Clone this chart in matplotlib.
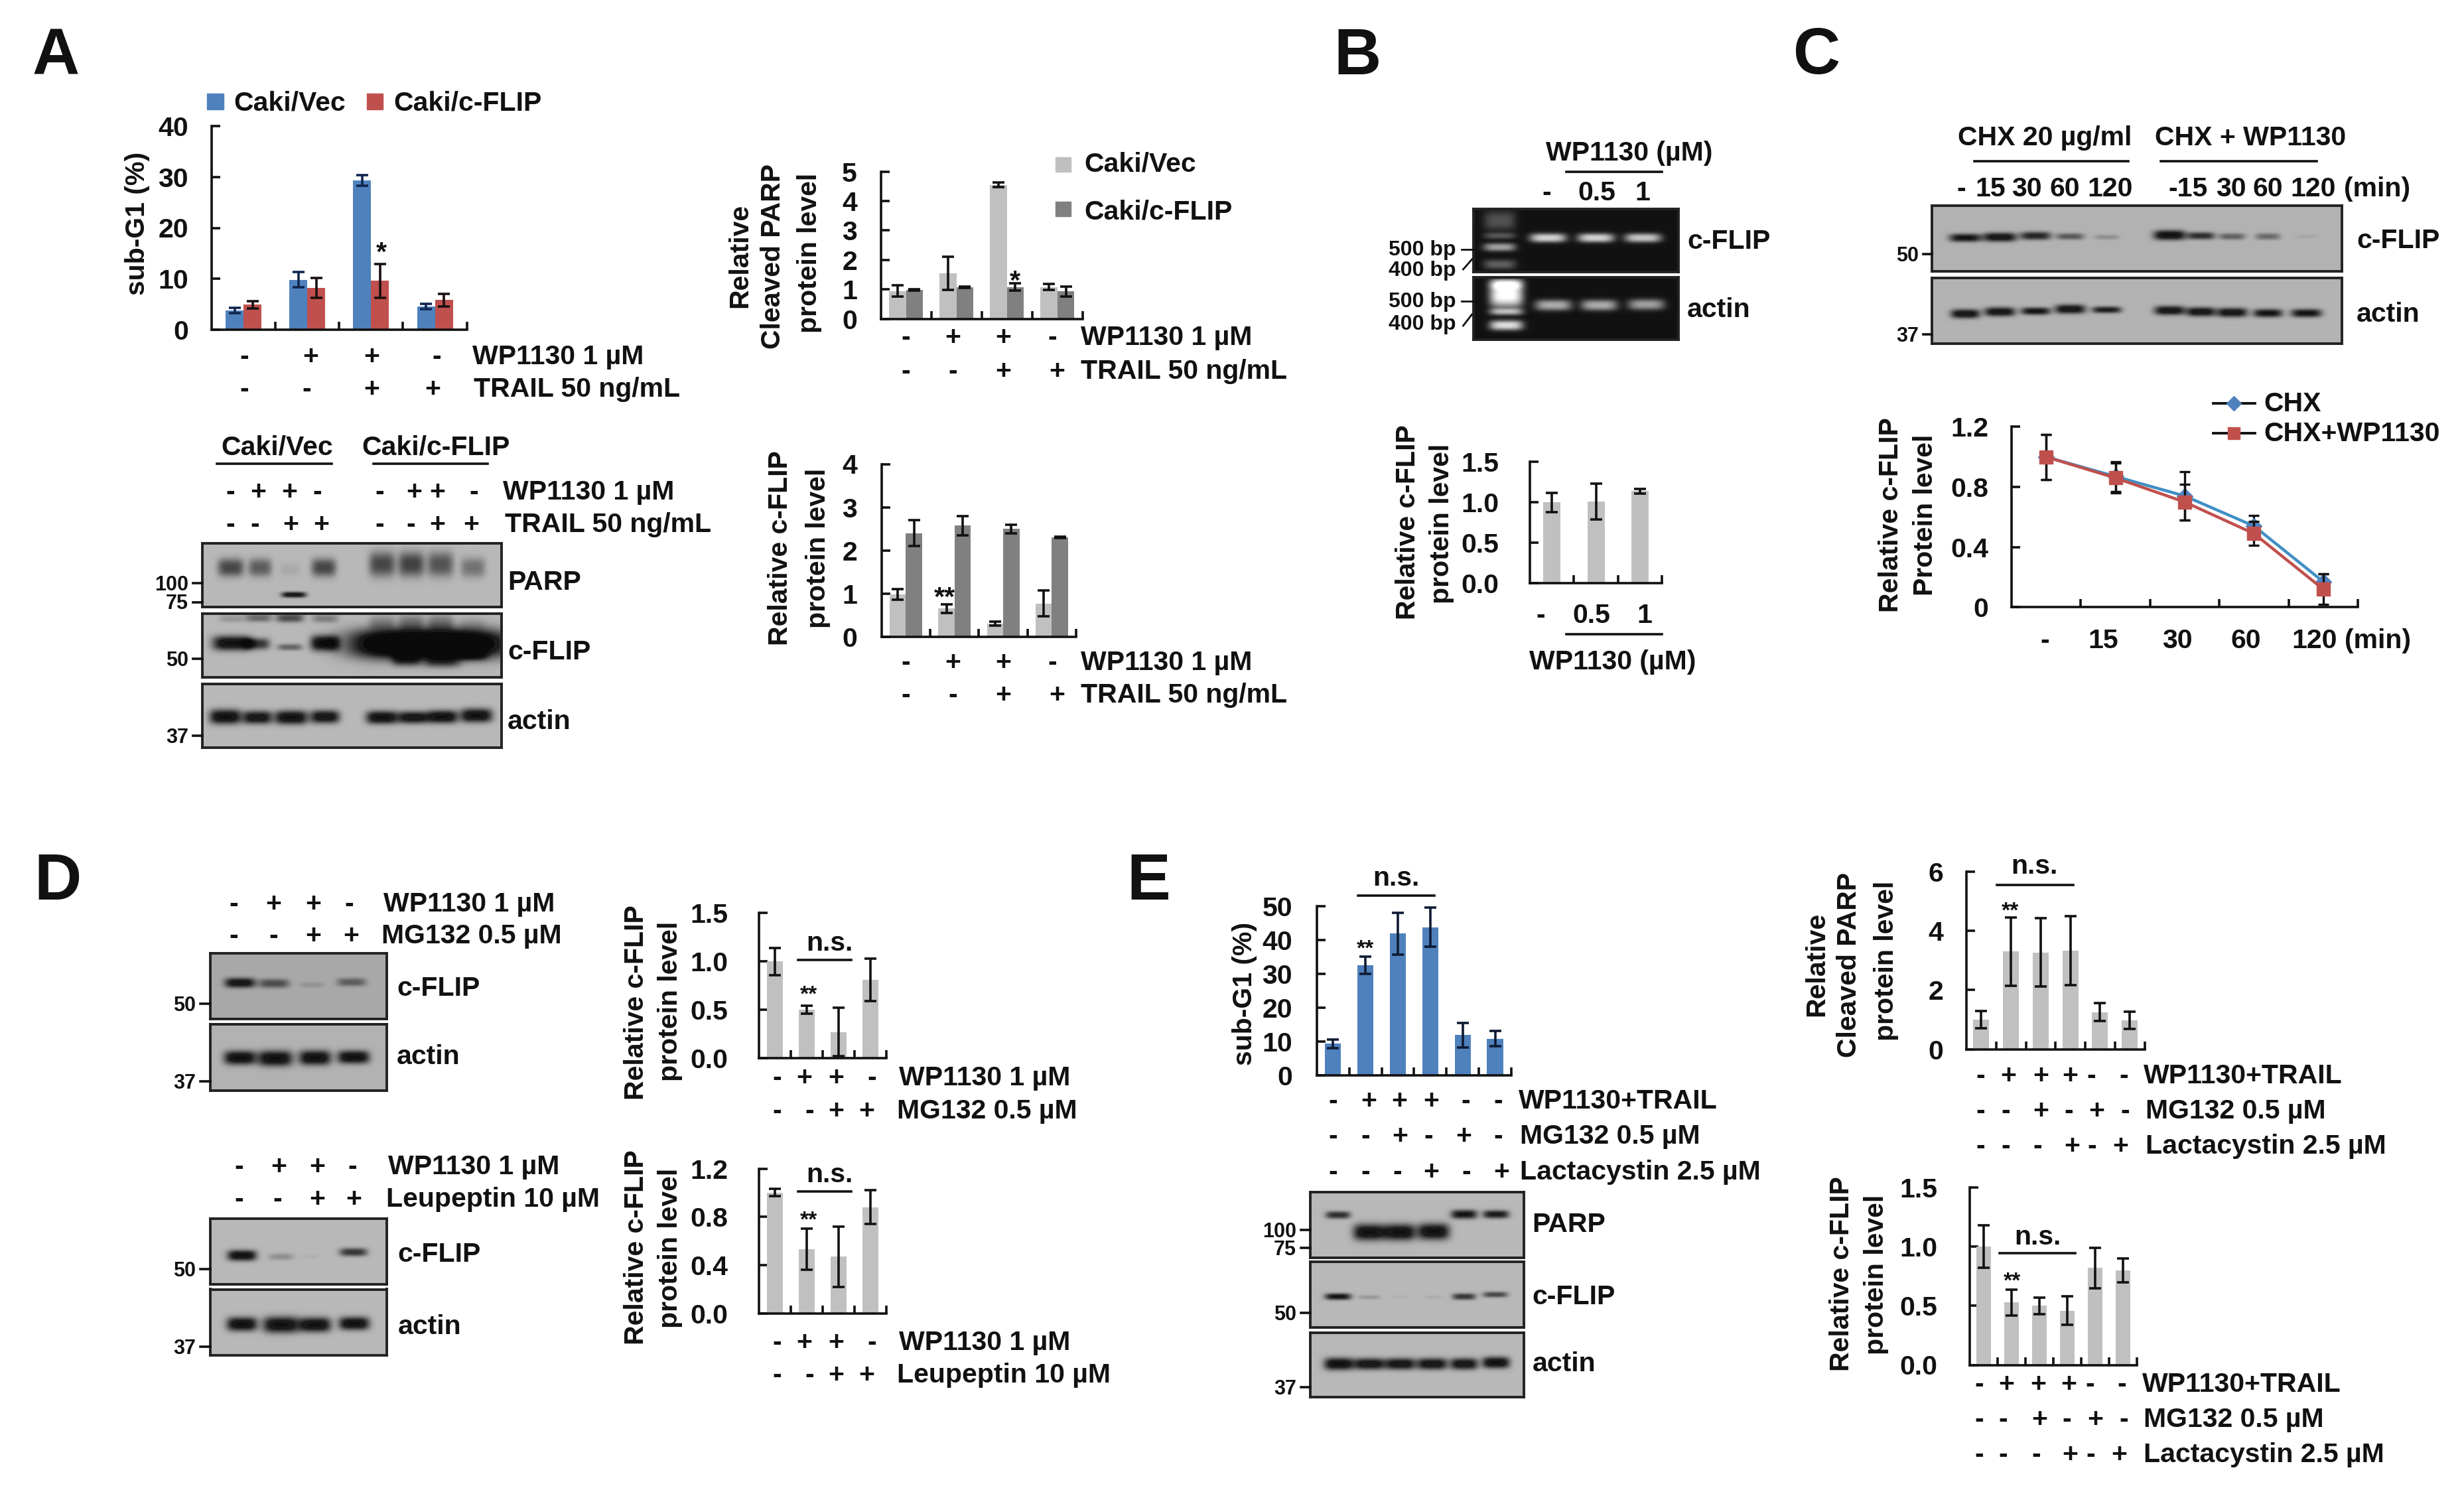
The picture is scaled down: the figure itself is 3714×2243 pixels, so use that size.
import numpy as np
import matplotlib
matplotlib.use("Agg")
import matplotlib.pyplot as plt
from matplotlib.lines import Line2D

plt.rcParams['font.family'] = ['Liberation Sans', 'DejaVu Sans']
plt.rcParams['font.weight'] = 'bold'

W, H = 3714, 2243
BLUE, RED, LIGHT, DARK = '#4f81bd', '#c0504d', '#c0c0c0', '#808080'

# ---------- data ----------
a1_vec = [3.8, 9.8, 29.3, 4.6];      a1_vec_err = [0.5, 1.5, 1.0, 0.5]
a1_flip = [4.9, 8.2, 9.6, 5.8];      a1_flip_err = [0.7, 2.0, 3.3, 1.3]
a2_vec = [0.95, 1.55, 4.55, 1.08];   a2_vec_err = [0.2, 0.57, 0.07, 0.1]
a2_flip = [0.98, 1.07, 1.08, 0.93];  a2_flip_err = [0.02, 0.02, 0.12, 0.17]
a3_vec = [0.98, 0.65, 0.30, 0.77];   a3_vec_err = [0.12, 0.1, 0.05, 0.3]
a3_flip = [2.4, 2.57, 2.5, 2.3];     a3_flip_err = [0.3, 0.23, 0.1, 0.02]
b_vals = [1.0, 1.01, 1.14];          b_err = [0.12, 0.22, 0.03]
c_chx = [1.0, 0.87, 0.74, 0.54, 0.17];   c_chx_err = [0.15, 0.1, 0.16, 0.07, 0.05]
c_wp = [1.0, 0.86, 0.70, 0.49, 0.12];    c_wp_err = [0.15, 0.1, 0.12, 0.08, 0.1]
d1_vals = [1.0, 0.5, 0.27, 0.81];    d1_err = [0.14, 0.04, 0.25, 0.22]
d2_vals = [1.0, 0.53, 0.47, 0.88];   d2_err = [0.03, 0.17, 0.25, 0.14]
e1_vals = [9.3, 32.5, 41.8, 43.7, 11.8, 10.8];  e1_err = [1.3, 2.5, 6.2, 5.8, 3.7, 2.3]
e2_vals = [1.0, 3.3, 3.27, 3.33, 1.25, 0.98];   e2_err = [0.3, 1.15, 1.15, 1.17, 0.3, 0.3]
e3_vals = [1.0, 0.53, 0.5, 0.46, 0.82, 0.8];    e3_err = [0.18, 0.11, 0.07, 0.12, 0.17, 0.1]

# blot bands: (lane centre, row centre, width, height, strength)
a_parp = [(347,855,36,22,.62),(391,855,32,22,.5),(436,858,28,16,.08),(487,855,34,22,.62),
          (575,850,36,30,.62),(619,850,36,30,.65),(663,850,36,30,.55),(712,855,34,24,.38),(442,896,34,7,.95)]
a_flip = [(349,932,36,9,.18),(389,931,36,10,.42),(436,931,38,11,.58),(489,932,36,10,.32),
          (349,969,54,18,1.0),(386,970,36,14,.7),(436,975,34,8,.45),(489,969,40,19,1.0),
          (575,938,36,18,.25),(619,938,36,20,.32),(663,938,36,20,.32),(712,940,36,16,.12),
          (645,970,215,36,1.6),(612,994,40,16,.55),(665,996,50,16,.55),(712,988,40,12,.4)]
a_actin = [(339,1080,44,18,1.0),(387,1081,40,16,.95),(438,1081,46,17,1.0),(489,1080,40,16,.95),
           (575,1081,44,16,1.0),(622,1081,42,15,.95),(666,1080,42,16,1.0),(717,1078,44,17,1.0)]
b_gel1 = [(2333,358,50,11,.75),(2405,358,50,11,.75),(2476,358,50,11,.7),
          (2260,332,44,24,.25),(2260,355,44,8,.25),(2260,372,44,10,.55),(2260,398,44,12,.3)]
b_gel2 = [(2341,460,50,13,.6),(2410,460,50,13,.6),(2481,459,50,13,.55),
          (2270,445,46,30,.95),(2270,470,46,8,.55),(2270,490,46,12,.8),(2270,428,46,12,.6)]
c_flip = [(2962,358,44,10,.9),(3014,357,46,11,.95),(3068,355,42,10,.8),(3120,356,38,8,.5),(3175,357,34,6,.2),
          (3270,354,44,12,1.0),(3317,355,38,9,.75),(3364,356,36,8,.45),(3418,356,34,8,.4),(3476,356,30,5,.07)]
c_actin = [(2962,473,40,11,.95),(3014,470,42,11,.95),(3068,469,40,9,.9),(3120,466,42,11,.95),(3175,467,40,8,.85),
           (3270,468,42,11,.95),(3317,470,40,11,.95),(3364,471,42,11,.95),(3418,472,40,10,.9),(3476,472,42,10,.9)]
d_flip1 = [(361,1481,42,12,.95),(412,1482,42,11,.55),(469,1484,34,7,.13),(529,1480,40,10,.45)]
d_act1 = [(361,1594,44,17,1.0),(414,1595,48,19,1.0),(474,1594,44,18,1.0),(532,1593,44,16,1.0)]
d_flip2 = [(364,1892,40,13,1.0),(423,1894,34,8,.22),(466,1894,24,5,.04),(532,1887,38,10,.7)]
d_act2 = [(364,1996,42,17,1.0),(423,1997,50,20,1.0),(474,1997,44,18,1.0),(533,1995,42,16,1.0)]
e_parp = [(2016,1831,34,9,.75),(2063,1857,44,20,1.0),(2109,1857,44,20,1.0),(2160,1856,44,20,1.0),
          (2206,1830,36,11,.9),(2254,1830,36,10,.85)]
e_flip = [(2016,1954,36,8,.9),(2063,1955,30,5,.18),(2110,1955,24,4,.03),(2160,1955,24,4,.06),
          (2206,1954,32,8,.7),(2253,1951,34,7,.6)]
e_actin = [(2017,2056,40,15,1.0),(2063,2056,44,14,.95),(2110,2056,42,14,.95),(2158,2056,42,14,.95),
           (2206,2056,38,14,.95),(2254,2054,38,14,1.0)]

fig = plt.figure(figsize=(W/100, H/100), dpi=100, facecolor='white')
FS = 29.5

def T(x, y, s, ha='left', size=FS, lift=.30, **kw):
    em = size*100/72
    fig.text(x/W, 1-(y+lift*em)/H, s, ha=ha, va='baseline', fontsize=size, fontweight='bold', color='#111111', **kw)

def R(x, y, s, size=FS):
    fig.text(x/W, 1-y/H, s, ha='center', va='center', rotation=90, fontsize=size, fontweight='bold', color='#111111')

def rows(xs, y, signs):
    for x, s in zip(xs, signs):
        T(x, y, s, ha='center')

def line(x0, x1, y, lw=2.6, y1=None):
    fig.add_artist(Line2D([x0/W, x1/W], [1-y/H, 1-(y if y1 is None else y1)/H], color='#111111', lw=lw))

def newax(x0, ytop, x1, y0):
    ax = fig.add_axes([x0/W, 1-y0/H, (x1-x0)/W, (y0-ytop)/H])
    ax.patch.set_alpha(0)
    return ax

def style(ax, n, yticks, ylabels, right):
    x0 = ax.get_position().x0*W
    ax.set_xlim(0, n)
    ax.set_ylim(yticks[0], yticks[-1])
    for s in ('top', 'right'):
        ax.spines[s].set_visible(False)
    for s in ('left', 'bottom'):
        ax.spines[s].set_linewidth(2.6)
        ax.spines[s].set_color('#111111')
    ax.set_xticks(range(1, n+1))
    ax.set_xticklabels([])
    ax.set_yticks(yticks)
    ax.set_yticklabels(ylabels, fontsize=FS, fontweight='bold', color='#111111')
    ax.tick_params(axis='both', direction='in', length=9, width=2.6, color='#111111')
    ax.tick_params(axis='y', pad=(x0-right)*.72)

def bars(box, yticks, ylabels, right, series, barpx):
    ax = newax(*box)
    n = len(series[0][0])
    grp = (box[2]-box[0])/n
    wd = barpx/grp
    k = len(series)
    for i, (vals, errs, col, ecol) in enumerate(series):
        x = np.arange(n)+.5+(i-(k-1)/2)*wd
        ax.bar(x, vals, width=wd, color=col, linewidth=0, zorder=2)
        ax.errorbar(x, vals, yerr=errs, fmt='none', ecolor=ecol, elinewidth=2.6, capsize=6.5, capthick=2.6, zorder=3, clip_on=False)
    style(ax, n, yticks, ylabels, right)
    return ax

def blot(x0, y0, x1, y1, bands, bg=.72, gel=False):
    ax = newax(x0, y0, x1, y1)
    xx, yy = np.meshgrid(np.arange(x0, x1, 1.0), np.arange(y0, y1, 1.0))
    sig = np.zeros_like(xx)
    for (bx, by, bw, bh, s) in bands:
        sig += s*np.exp(-(np.abs(xx-bx)/(bw*.55))**4)*np.exp(-(np.abs(yy-by)/(bh*.62))**2.5)
    if gel:
        img = np.clip(.07+sig, 0, 1)
    else:
        img = np.clip(bg*(1-sig)+.06*(sig > .9), .04, 1)
    ax.imshow(img, cmap='gray', vmin=0, vmax=1, extent=(x0, x1, y1, y0), aspect='auto', interpolation='bilinear')
    ax.set_xticks([]); ax.set_yticks([])
    for s in ax.spines.values():
        s.set_linewidth(2.8); s.set_color('#222222')

def mw(label, y, axis_x, right, size=22):
    T(right, y, label, ha='right', size=size, lift=.36)
    line(right+7, axis_x, y)

# ---------- Panel A ----------
T(49, 76, 'A', size=71, lift=.36)
fig.patches.append(plt.Rectangle((312/W, 1-165/H), 25/W, 24/H, transform=fig.transFigure, color=BLUE))
fig.patches.append(plt.Rectangle((553/W, 1-165/H), 24/W, 24/H, transform=fig.transFigure, color=RED))
T(352, 153, 'Caki/Vec', lift=.34); T(593, 153, 'Caki/c-FLIP', lift=.34)
bars((319, 190, 703.6, 497), [0, 10, 20, 30, 40], ['0', '10', '20', '30', '40'], 284,
     [(a1_vec, a1_vec_err, BLUE, '#10264f'), (a1_flip, a1_flip_err, RED, '#1a1010')], 27)
R(207, 337, 'sub-G1 (%)')
T(575, 369, '*', ha='center', lift=.58)
rows([368, 468, 560, 658], 537, '-++-'); T(712, 537, 'WP1130 1 µM')
rows([368, 462, 560, 652], 586, '--++'); T(714, 586, 'TRAIL 50 ng/mL')

T(418, 673, 'Caki/Vec', ha='center'); T(657, 673, 'Caki/c-FLIP', ha='center')
line(327, 500, 699); line(563, 735, 699)
rows([347, 389, 436, 478, 572, 624, 659, 714], 740.5, '-++--++-'); T(758, 740.5, 'WP1130 1 µM')
rows([347, 384, 438, 484, 572, 619, 659, 710], 790, '--++--++'); T(761, 790, 'TRAIL 50 ng/mL')
blot(304.5, 819, 755.5, 915, a_parp)
blot(304.5, 925, 755.5, 1021, a_flip)
blot(304.5, 1031, 755.5, 1127, a_actin)
mw('100', 879, 304.5, 284); mw('75', 907.5, 304.5, 284); mw('50', 992.6, 304.5, 284); mw('37', 1109, 304.5, 284)
T(765, 876.5, 'PARP'); T(765, 981.6, 'c-FLIP'); T(765, 1086.6, 'actin')

bars((1327.5, 258.6, 1631.8, 480.8), [0, 1, 2, 3, 4, 5], list('012345'), 1292,
     [(a2_vec, a2_vec_err, LIGHT, '#111111'), (a2_flip, a2_flip_err, DARK, '#111111')], 25.5)
for x, y, s in [(1115, 385, 'Relative'), (1165, 387, 'Cleaved PARP'), (1220, 381, 'protein level')]:
    R(x, y, s)
T(1530, 412, '*', ha='center', lift=.58)
fig.patches.append(plt.Rectangle((1591/W, 1-259/H), 23/W, 22/H, transform=fig.transFigure, color=LIGHT))
fig.patches.append(plt.Rectangle((1591/W, 1-326/H), 23/W, 22/H, transform=fig.transFigure, color=DARK))
T(1634, 246, 'Caki/Vec'); T(1634, 318, 'Caki/c-FLIP')
rows([1365, 1436, 1512, 1586], 508, '-++-'); T(1629, 508, 'WP1130 1 µM')
rows([1365, 1436, 1512, 1593.5], 559, '--++'); T(1629, 559, 'TRAIL 50 ng/mL')

bars((1328.8, 699.5, 1622, 959.6), [0, 1, 2, 3, 4], list('01234'), 1292,
     [(a3_vec, a3_vec_err, LIGHT, '#111111'), (a3_flip, a3_flip_err, DARK, '#111111')], 24.5)
R(1176, 826, 'Relative c-FLIP'); R(1233, 826, 'protein level')
T(1424, 889, '**', ha='center', lift=.58)
rows([1365, 1436, 1512, 1586], 998, '-++-'); T(1629, 998, 'WP1130 1 µM')
rows([1365, 1436, 1512, 1593.5], 1047, '--++'); T(1629, 1047, 'TRAIL 50 ng/mL')

# ---------- Panel B ----------
T(2010, 76, 'B', size=71, lift=.36)
T(2456, 230, 'WP1130 (µM)', ha='center'); line(2361, 2505, 259)
for x, s in zip([2331, 2407, 2475.5], ['-', '0.5', '1']):
    T(x, 290, s, ha='center')
blot(2221, 315, 2530, 410, b_gel1, gel=True)
blot(2221, 418, 2530, 512, b_gel2, gel=True)
T(2543, 363, 'c-FLIP'); T(2543, 466, 'actin')
for y, s in [(373, '500 bp'), (405, '400 bp'), (451, '500 bp'), (485, '400 bp')]:
    T(2195, y, s, ha='right', size=23, lift=.36)
line(2203, 2221, 376, lw=2); line(2203, 2221, 454, lw=2)
line(2205.5, 2218.6, 406, lw=2, y1=391); line(2205.5, 2218.6, 491, lw=2, y1=474)
bars((2306, 696.4, 2505, 878.8), [0, .5, 1, 1.5], ['0.0', '0.5', '1.0', '1.5'], 2259,
     [(b_vals, b_err, LIGHT, '#111111')], 26)
R(2122, 787, 'Relative c-FLIP'); R(2173, 789, 'protein level')
for x, s in zip([2322.5, 2399, 2479], ['-', '0.5', '1']):
    T(x, 927, s, ha='center')
line(2361, 2505, 956); T(2431, 997, 'WP1130 (µM)', ha='center')

# ---------- Panel C ----------
T(2703, 76, 'C', size=71, lift=.36)
T(3082, 207, 'CHX 20 µg/ml', ha='center'); T(3392, 207, 'CHX + WP1130', ha='center')
line(2976, 3208, 243); line(3257, 3492, 243)
for x, s in zip([2956.5, 3000, 3055, 3112, 3181, 3298, 3363, 3418, 3487], ['-', '15', '30', '60', '120', '-15', '30', '60', '120']):
    T(x, 284, s, ha='center')
T(3533, 284, '(min)')
blot(2912, 310, 3530, 409, c_flip, bg=.70)
blot(2912, 419, 3530, 518, c_actin, bg=.70)
T(3552, 361.5, 'c-FLIP'); T(3552, 473, 'actin')
mw('50', 383, 2912, 2892); mw('37', 504, 2912, 2892)

ax = newax(3032, 643.4, 3554, 915.3)
xc = np.arange(5)+.5
ax.errorbar(xc, c_chx, yerr=c_chx_err, color='#3f8fc4', lw=3.2, marker='D', ms=12, mfc=BLUE, mec=BLUE,
            ecolor='#111111', elinewidth=2.4, capsize=6, capthick=2.4, clip_on=False, zorder=3)
ax.errorbar(xc, c_wp, yerr=c_wp_err, color=RED, lw=3.2, marker='s', ms=15, mfc=RED, mec=RED,
            ecolor='#111111', elinewidth=2.4, capsize=6, capthick=2.4, clip_on=False, zorder=4)
style(ax, 5, [0, .4, .8, 1.2], ['0', '0.4', '0.8', '1.2'], 2997)
R(2850, 776, 'Relative c-FLIP'); R(2902, 776, 'Protein level')
fig.add_artist(Line2D([3336/W, 3399/W], [1-608/H]*2, color='#111111', lw=2.8))
fig.add_artist(Line2D([3367/W], [1-608/H], color=BLUE, marker='D', ms=11, lw=0))
fig.add_artist(Line2D([3336/W, 3399/W], [1-653/H]*2, color='#111111', lw=2.8))
fig.add_artist(Line2D([3367/W], [1-653/H], color=RED, marker='s', ms=13, lw=0))
T(3412, 608, 'CHX'); T(3412, 653, 'CHX+WP1130')
for x, s in zip([3082, 3170, 3282, 3385, 3489], ['-', '15', '30', '60', '120']):
    T(x, 965, s, ha='center')
T(3534, 965, '(min)')

# ---------- Panel D ----------
T(51, 1320, 'D', size=71, lift=.36)
rows([352, 412, 472, 526], 1362, '-++-'); T(578, 1362, 'WP1130 1 µM')
rows([352, 412, 472, 529], 1410, '--++'); T(575, 1410, 'MG132 0.5 µM')
blot(316.6, 1437, 583, 1536, d_flip1, bg=.66)
blot(316.6, 1544, 583, 1644, d_act1, bg=.70)
T(598, 1489, 'c-FLIP'); T(598, 1592, 'actin')
mw('50', 1513, 316.6, 295); mw('37', 1630, 316.6, 295)
bars((1143.7, 1376, 1335.6, 1595.4), [0, .5, 1, 1.5], ['0.0', '0.5', '1.0', '1.5'], 1097,
     [(d1_vals, d1_err, LIGHT, '#111111')], 24)
R(959, 1511, 'Relative c-FLIP'); R(1010, 1509, 'protein level')
T(1250, 1421, 'n.s.', ha='center'); line(1203, 1282.5, 1447); T(1218.6, 1489, '**', ha='center', lift=.58, size=24)
rows([1171, 1212, 1260, 1314], 1624, '-++-'); T(1355, 1624, 'WP1130 1 µM')
rows([1171, 1220, 1260, 1306], 1674, '--++'); T(1352, 1674, 'MG132 0.5 µM')

rows([360, 420, 478, 531], 1758, '-++-'); T(585, 1758, 'WP1130 1 µM')
rows([360, 418, 478, 533], 1807, '--++'); T(582, 1807, 'Leupeptin 10 µM')
blot(316.6, 1837, 583, 1936, d_flip2)
blot(316.6, 1943.5, 583, 2043, d_act2)
T(599.5, 1890, 'c-FLIP'); T(599.5, 1998.5, 'actin')
mw('50', 1913, 316.6, 295); mw('37', 2030, 316.6, 295)
bars((1143.7, 1761.6, 1335.6, 1979.7), [0, .4, .8, 1.2], ['0.0', '0.4', '0.8', '1.2'], 1097,
     [(d2_vals, d2_err, LIGHT, '#111111')], 24)
R(959, 1880, 'Relative c-FLIP'); R(1010, 1881, 'protein level')
T(1250, 1770, 'n.s.', ha='center'); line(1203, 1282.5, 1796); T(1218.6, 1829, '**', ha='center', lift=.58, size=24)
rows([1171, 1212, 1260, 1314], 2023, '-++-'); T(1355, 2023, 'WP1130 1 µM')
rows([1171, 1220, 1260, 1306], 2072, '--++'); T(1352, 2072, 'Leupeptin 10 µM')

# ---------- Panel E ----------
T(1698, 1320, 'E', size=71, lift=.36)
bars((1984.8, 1365.6, 2278, 1620.7), [0, 10, 20, 30, 40, 50], ['0', '10', '20', '30', '40', '50'], 1948,
     [(e1_vals, e1_err, BLUE, '#0f1a33')], 24.2)
R(1876, 1498, 'sub-G1 (%)')
T(2104, 1323, 'n.s.', ha='center'); line(2047, 2161.5, 1350); T(2058, 1420.5, '**', ha='center', lift=.58, size=24)
rows([2009, 2063, 2109, 2157, 2209, 2258], 1659, '-+++--'); T(2289, 1659, 'WP1130+TRAIL')
rows([2009, 2058, 2110, 2153, 2206, 2258], 1712, '--+-+-'); T(2291, 1712, 'MG132 0.5 µM')
rows([2009, 2058, 2106, 2157, 2210, 2263], 1766, '---+-+'); T(2291, 1766, 'Lactacystin 2.5 µM')
blot(1974.6, 1797, 2296.7, 1895.6, e_parp)
blot(1974.6, 1902, 2296.7, 2000.8, e_flip)
blot(1974.6, 2008.5, 2296.7, 2106, e_actin)
T(2309.5, 1844.6, 'PARP'); T(2309.5, 1954, 'c-FLIP'); T(2309.5, 2055, 'actin')
mw('100', 1854, 1974.6, 1954); mw('75', 1881, 1974.6, 1954); mw('50', 1978.5, 1974.6, 1954); mw('37', 2091.4, 1974.6, 1954)

bars((2964, 1314, 3232.6, 1581.6), [0, 2, 4, 6], ['0', '2', '4', '6'], 2929,
     [(e2_vals, e2_err, LIGHT, '#111111')], 24)
for x, y, s in [(2738, 1453, 'Relative'), (2787.5, 1454, 'Cleaved PARP'), (2843.5, 1448, 'protein level')]:
    R(x, y, s)
T(3066, 1305, 'n.s.', ha='center'); line(3010, 3125, 1334); T(3029.5, 1363.5, '**', ha='center', lift=.58, size=24)
rows([2985, 3027.5, 3076, 3120.5, 3152, 3201], 1620.5, '-+++--'); T(3231, 1620.5, 'WP1130+TRAIL')
rows([2985, 3023, 3076, 3118.5, 3160, 3203], 1674, '--+-+-'); T(3234, 1674, 'MG132 0.5 µM')
rows([2985, 3023, 3071, 3123, 3153.5, 3196], 1727, '---+-+'); T(3234, 1727, 'Lactacystin 2.5 µM')

bars((2968.8, 1790.4, 3220.8, 2057.5), [0, .5, 1, 1.5], ['0.0', '0.5', '1.0', '1.5'], 2920.7,
     [(e3_vals, e3_err, LIGHT, '#111111')], 22.4)
R(2775.6, 1920, 'Relative c-FLIP'); R(2828, 1921, 'protein level')
T(3071, 1864, 'n.s.', ha='center'); line(3014, 3128.4, 1889); T(3033, 1921.4, '**', ha='center', lift=.58, size=24)
rows([2983, 3024, 3072.4, 3118.5, 3150, 3197.7], 2085.7, '-+++--'); T(3229, 2085.7, 'WP1130+TRAIL')
rows([2983, 3019.6, 3073.7, 3115, 3158, 3201], 2139, '--+-+-'); T(3231, 2139, 'MG132 0.5 µM')
rows([2983, 3019.6, 3069, 3120.5, 3151.5, 3194], 2192, '---+-+'); T(3231, 2192, 'Lactacystin 2.5 µM')

fig.savefig('out.png', dpi=100, facecolor='white')
